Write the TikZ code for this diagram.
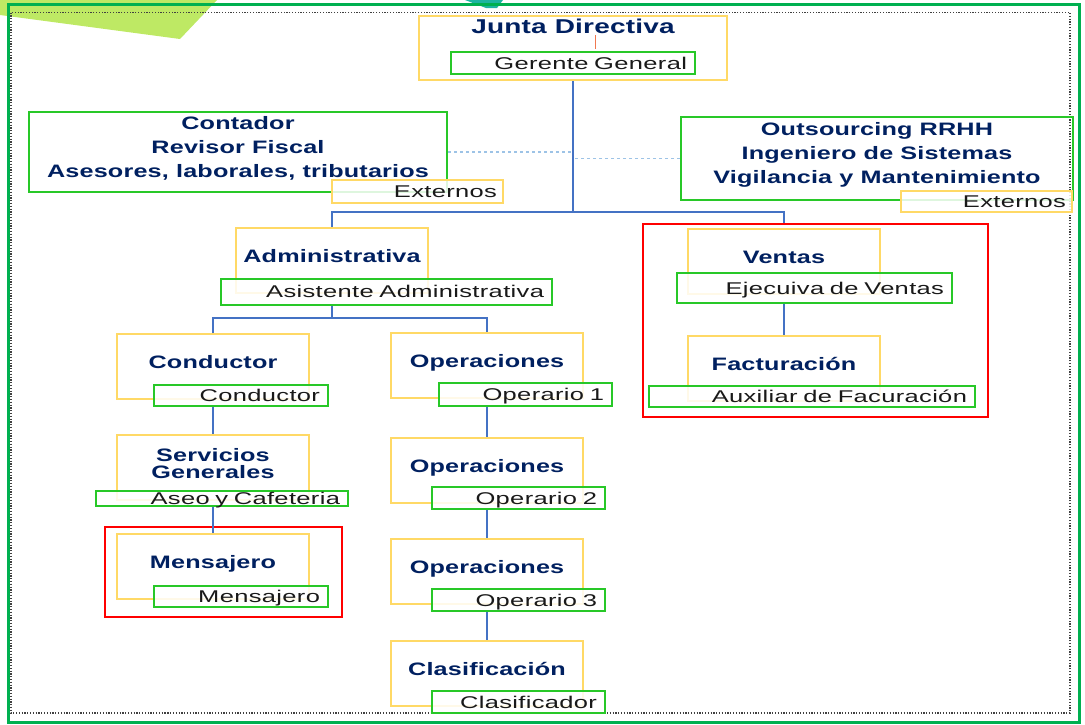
\documentclass[tikz,border=0pt]{standalone}
\usepackage{fontspec}
\setmainfont{Liberation Sans}
\newfontfamily\fuentecargo{Liberation Sans}[FakeStretch=1.5, LetterSpace=2]
\newfontfamily\fuentetitulo{Liberation Sans}[FakeStretch=1.4, LetterSpace=1]
\usepackage{xcolor}
\usepackage{tikz}
\definecolor{azultitulo}{RGB}{0,32,96}
\definecolor{amarillo}{RGB}{255,217,102}
\definecolor{verdecaja}{RGB}{40,200,40}
\definecolor{verdemarco}{RGB}{0,176,80}
\definecolor{verdeclaro}{RGB}{190,233,100}
\definecolor{turquesa}{RGB}{30,180,160}
\definecolor{azullinea}{RGB}{68,114,196}
\definecolor{azulpunteado}{RGB}{157,195,230}
\definecolor{rojo}{RGB}{255,0,0}
\definecolor{naranja}{RGB}{240,120,80}

\begin{document}
\begin{tikzpicture}[x=1pt, y=-1pt, thick]
        \tikzstyle{area} = [rectangle, draw=amarillo, line width=2pt, fill=white, minimum width=192pt, minimum height=65pt, inner sep=0pt, text=azultitulo, align=center, font=\fuentetitulo\bfseries\fontsize{18}{17}\selectfont]
        \tikzstyle{area1} = [area, text height=13pt, text depth=9pt]
        \tikzstyle{cargo} = [rectangle, draw=verdecaja, line width=2pt, fill=white, fill opacity=0.85, text opacity=1, inner xsep=8pt, inner ysep=0pt, align=right, text height=12pt, text depth=0pt, text=black!90, font=\fuentecargo\fontsize{17}{20}\selectfont]
        \tikzstyle{externo} = [cargo, draw=amarillo, inner xsep=6pt]
        \tikzstyle{grupoext} = [rectangle, draw=verdecaja, line width=2pt, inner sep=0pt, text=azultitulo, align=center, text depth=11pt, font=\fuentetitulo\bfseries\fontsize{18}{24}\selectfont]
        \tikzstyle{grupo} = [rectangle, draw=rojo, line width=2.5pt, inner sep=0pt]
        \tikzstyle{linea} = [draw=azullinea, line width=1.5pt]
        \tikzstyle{punteado} = [draw=azulpunteado, line width=1.2pt, dashed]

        \useasboundingbox (0,0) rectangle (1085,724);

        % marco
        \fill[verdeclaro] (0,0) -- (217,0) -- (180,39) -- (0,15) -- cycle;
        \fill[turquesa] (465,0) -- (503,0) -- (497,8) -- (486,8) -- cycle;
        \draw[verdemarco, line width=3pt] (8,4) rectangle (1079,722);
        \draw[black!75, line width=1.2pt, dash pattern=on 1.2pt off 1.6pt] (11,12.5) rectangle (1070,713);

        % grupos
        \node (ventasgrupo) [grupo, minimum width=345pt, minimum height=193pt] at (815.5,320.5) {};
        \node (mensgrupo) [grupo, minimum width=237pt, minimum height=90pt] at (223.5,572) {};

        \node (junta) [area, minimum width=308pt, minimum height=64pt, text height=14pt, text depth=44pt, font=\fuentetitulo\bfseries\fontsize{20}{24}\selectfont] at (573,48) {Junta Directiva};
        \node (gerente) [cargo, text width=228pt, minimum height=22pt] at (573,63) {Gerente General};

        \node (contador) [grupoext, minimum width=418pt, minimum height=80pt] at (238,152) {Contador\\Revisor Fiscal\\Asesores, laborales, tributarios};
        \node (ext1) [externo, text width=159pt, minimum height=23pt] at (417.5,191.5) {Externos};
        \node (outsourcing) [grupoext, minimum width=392pt, minimum height=83pt] at (877,158.5) {Outsourcing RRHH\\Ingeniero de Sistemas\\Vigilancia y Mantenimiento};
        \node (ext2) [externo, text width=159pt, minimum height=21pt] at (986.5,201.5) {Externos};

        \node (admin) [area1] at (332,260.5) {Administrativa};
        \node (asist) [cargo, text width=315pt, minimum height=26pt] at (386.5,291.5) {Asistente Administrativa};

        \node (conductor) [area1] at (213,366.5) {Conductor};
        \node (condcargo) [cargo, text width=158pt, minimum height=21pt] at (241,395.5) {Conductor};
        \node (servicios) [area, text depth=8pt] at (213,467.5) {Servicios\\Generales};
        \node (aseo) [cargo, text width=236pt, minimum height=15pt] at (222,498) {Aseo y Cafeteria};
        \node (mensajero) [area1] at (213,566.5) {Mensajero};
        \node (menscargo) [cargo, text width=158pt, minimum height=21pt] at (241,596.5) {Mensajero};

        \node (oper1) [area1] at (487,365.5) {Operaciones};
        \node (op1cargo) [cargo, text width=157pt, minimum height=23pt] at (525.5,394.5) {Operario 1};
        \node (oper2) [area1] at (487,470) {Operaciones};
        \node (op2cargo) [cargo, text width=157pt, minimum height=22pt] at (518.5,498) {Operario 2};
        \node (oper3) [area1] at (487,571.5) {Operaciones};
        \node (op3cargo) [cargo, text width=157pt, minimum height=22pt] at (518.5,600) {Operario 3};
        \node (clasif) [area1] at (487,673.5) {Clasificación};
        \node (clasifcargo) [cargo, text width=157pt, minimum height=22pt] at (518.5,702) {Clasificador};

        \node (ventas) [area1] at (784,261) {Ventas};
        \node (ejecargo) [cargo, text width=259pt, minimum height=30pt] at (814.5,288) {Ejecuiva de Ventas};
        \node (factur) [area1] at (784,368) {Facturación};
        \node (auxcargo) [cargo, text width=310pt, minimum height=21pt] at (812,396.5) {Auxiliar de Facuración};

        % conectores
        \coordinate (bus) at (573,212);
        \coordinate (adminbus) at (332,318);
        \coordinate (marca) at (595,35);

        \draw [naranja, line width=1pt] (marca) -- ++(0,14);
        \draw [linea] (junta.south) -- (bus);
        \draw [linea] (admin.north) |- (bus) -| (ventas |- ventasgrupo.north);
        \draw [punteado] (contador.east) -- (contador.east -| bus);
        \draw [punteado] (outsourcing.west) -- (outsourcing.west -| bus);

        \draw [linea] (admin |- asist.south) -- (adminbus);
        \draw [linea] (conductor.north) |- (adminbus) -| (oper1.north);

        \draw [linea] (conductor |- condcargo.south) -- (servicios.north);
        \draw [linea] (servicios |- aseo.south) -- (mensajero.north);

        \draw [linea] (oper1 |- op1cargo.south) -- (oper2.north);
        \draw [linea] (oper2 |- op2cargo.south) -- (oper3.north);
        \draw [linea] (oper3 |- op3cargo.south) -- (clasif.north);

        \draw [linea] (ventas |- ejecargo.south) -- (factur.north);
    \end{tikzpicture}
\end{document}
